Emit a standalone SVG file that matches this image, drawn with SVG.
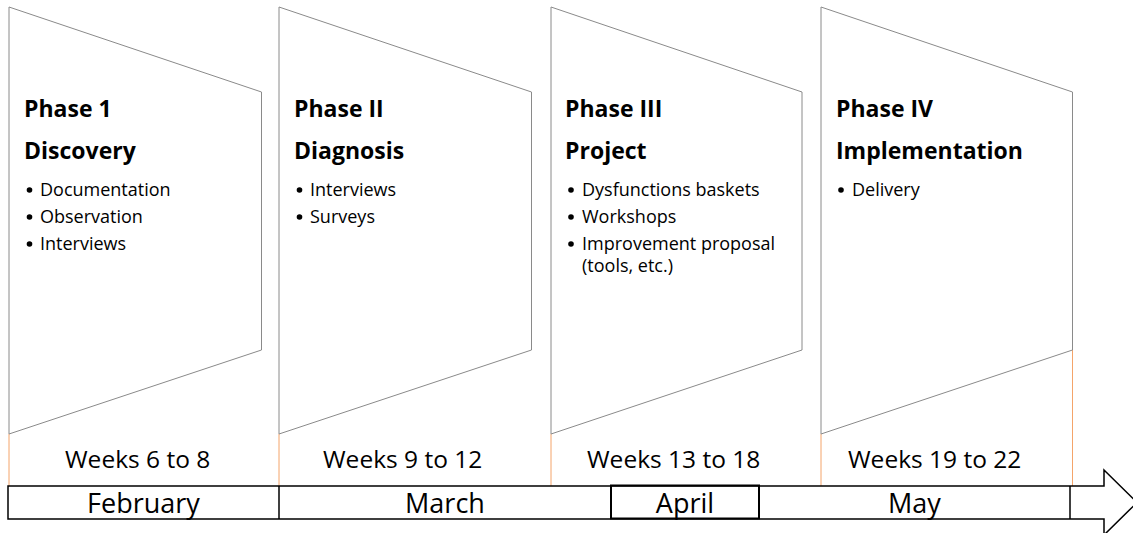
<svg xmlns="http://www.w3.org/2000/svg" width="1133" height="533" viewBox="0 0 1133 533">
<style>
.shape{fill:#fff;stroke:#8a8a8a;stroke-width:1}
.orange{stroke:#f4a46a;stroke-width:1;fill:none}
.bar{fill:#fff;stroke:#000;stroke-width:1.5}
.div{stroke:#000;stroke-width:1.5}
.dot{fill:#000}
.h{font-family:"Open Sans",sans-serif;font-weight:bold;font-size:23px;fill:#000}
.b{font-family:"Open Sans",sans-serif;font-size:18px;fill:#000}
.w{font-family:"Open Sans",sans-serif;font-size:24.5px;fill:#000}
.m{font-family:"Open Sans",sans-serif;font-size:27px;fill:#000;text-anchor:middle}
</style>
<rect width="1133" height="533" fill="#fff"/>
<g id="connectors">
<line class="orange" x1="9" y1="434" x2="9" y2="486"/>
<line class="orange" x1="279" y1="434" x2="279" y2="486"/>
<line class="orange" x1="551" y1="434" x2="551" y2="486"/>
<line class="orange" x1="821" y1="434" x2="821" y2="486"/>
<line class="orange" x1="1072.5" y1="350" x2="1072.5" y2="486"/>
</g>
<g id="phase1">
<polygon class="shape" points="9,7 261.5,92 261.5,350 9,434"/>
<text class="h" x="24" y="117">Phase 1</text>
<text class="h" x="24" y="159">Discovery</text>
<circle class="dot" cx="29.5" cy="190" r="2.8"/><text class="b" x="40" y="196">Documentation</text>
<circle class="dot" cx="29.5" cy="217" r="2.8"/><text class="b" x="40" y="223">Observation</text>
<circle class="dot" cx="29.5" cy="244" r="2.8"/><text class="b" x="40" y="250">Interviews</text>
<text class="w" x="65" y="468">Weeks 6 to 8</text>
</g>
<g id="phase2">
<polygon class="shape" points="279,7 531.5,92 531.5,350 279,434"/>
<text class="h" x="294" y="117">Phase II</text>
<text class="h" x="294" y="159">Diagnosis</text>
<circle class="dot" cx="299.5" cy="190" r="2.8"/><text class="b" x="310" y="196">Interviews</text>
<circle class="dot" cx="299.5" cy="217" r="2.8"/><text class="b" x="310" y="223">Surveys</text>
<text class="w" x="323" y="468">Weeks 9 to 12</text>
</g>
<g id="phase3">
<polygon class="shape" points="551,7 802,92 802,350 551,434"/>
<text class="h" x="565" y="117">Phase III</text>
<text class="h" x="565" y="159">Project</text>
<circle class="dot" cx="571" cy="190" r="2.8"/><text class="b" x="582" y="196">Dysfunctions baskets</text>
<circle class="dot" cx="571" cy="217" r="2.8"/><text class="b" x="582" y="223">Workshops</text>
<circle class="dot" cx="571" cy="244" r="2.8"/><text class="b" x="582" y="250">Improvement proposal</text>
<text class="b" x="582" y="272">(tools, etc.)</text>
<text class="w" x="587" y="468">Weeks 13 to 18</text>
</g>
<g id="phase4">
<polygon class="shape" points="821,7 1072.5,92 1072.5,350 821,434"/>
<text class="h" x="836" y="117">Phase IV</text>
<text class="h" x="836" y="159">Implementation</text>
<circle class="dot" cx="841" cy="190" r="2.8"/><text class="b" x="852" y="196">Delivery</text>
<text class="w" x="848" y="468">Weeks 19 to 22</text>
</g>
<g id="timeline">
<polygon class="bar" points="8,486 1104,486 1104,470 1137,502.5 1104,535 1104,519 8,519"/>
<line class="div" x1="279" y1="486" x2="279" y2="519"/>
<rect x="611" y="485.5" width="148" height="33" fill="none" stroke="#000" stroke-width="2"/>
<line class="div" x1="1070" y1="486" x2="1070" y2="519"/>
<text class="m" x="143.5" y="513">February</text>
<text class="m" x="445" y="513">March</text>
<text class="m" x="685" y="513">April</text>
<text class="m" x="914.5" y="513">May</text>
</g>
</svg>
